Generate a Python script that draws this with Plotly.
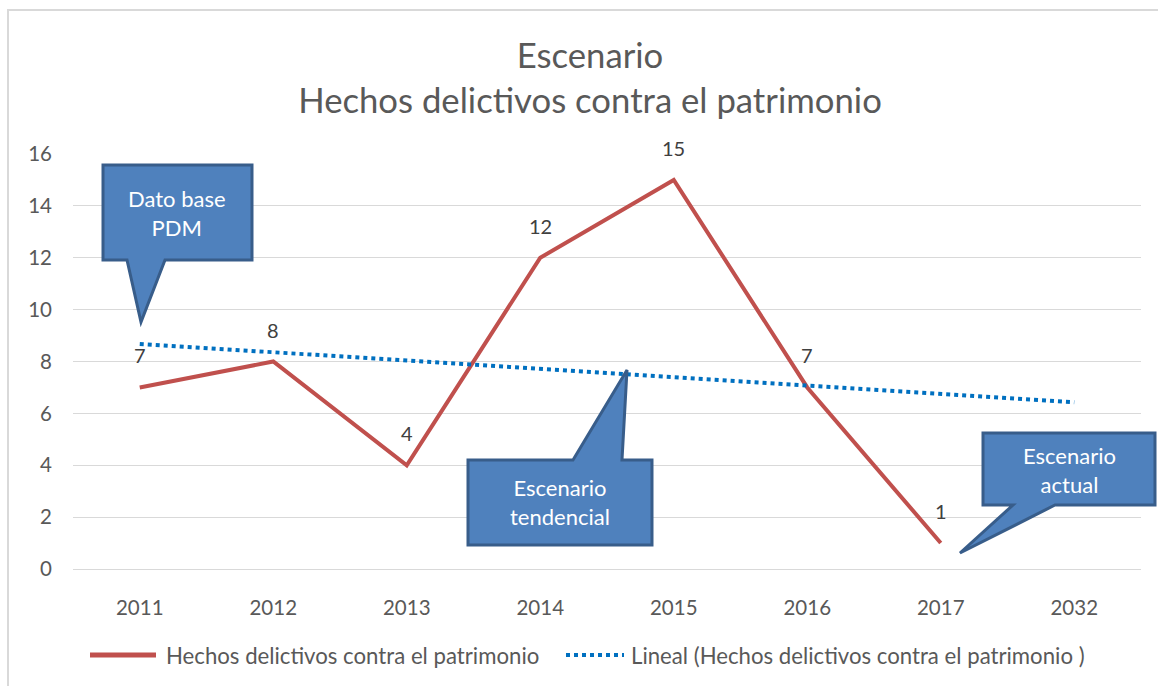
import numpy as np
import plotly.graph_objects as go

years = ["2011", "2012", "2013", "2014", "2015", "2016", "2017", "2032"]
hechos = [7, 8, 4, 12, 15, 7, 1]
serie_nombre = "Hechos delictivos contra el patrimonio"
trend_nombre = "Lineal (Hechos delictivos contra el patrimonio )"
y_ticks = [0, 2, 4, 6, 8, 10, 12, 14, 16]

# linear trendline (least squares over observed points), extended to the last category
idx = np.arange(1, len(hechos) + 1)
slope, intercept = np.polyfit(idx, hechos, 1)
trend_idx = np.arange(1, len(years) + 1)
trend_vals = slope * trend_idx + intercept

FONT = "Lato"
W, H = 1158, 686
L, R, T, B = 73, 17, 154, 117
PW, PH = W - L - R, H - T - B

def px(x):
    return (x - L) / PW

def py(y):
    return (H - B - y) / PH

fig = go.Figure()
fig.add_trace(go.Scatter(
    x=years[:len(hechos)], y=hechos, mode="lines", name=serie_nombre,
    line=dict(color="#C0504D", width=4),
))
fig.add_trace(go.Scatter(
    x=years, y=trend_vals, mode="lines", name=trend_nombre,
    line=dict(color="#0070C0", width=4, dash="dot"),
))

annotations = []
# data labels (category index positions on the category axis)
for i, v in enumerate(hechos):
    annotations.append(dict(x=i, y=v, xref="x", yref="y", text=str(v), showarrow=False,
                            yshift=32, font=dict(size=20, color="#404040", family=FONT),
                            xanchor="center", yanchor="middle"))

# callouts (pixel geometry converted to paper coordinates)
callouts = [
    dict(text="Dato base<br>PDM",
         pts=[(103, 165), (252, 165), (252, 260), (165, 260), (141, 322), (127, 260), (103, 260)],
         cx=177, cy=213),
    dict(text="Escenario<br>tendencial",
         pts=[(468, 460), (573, 460), (627, 370), (622, 460), (652, 460), (652, 545), (468, 545)],
         cx=560, cy=502),
    dict(text="Escenario<br>actual",
         pts=[(983, 433), (1155, 433), (1155, 505), (1055, 505), (960, 553), (1013, 505), (983, 505)],
         cx=1069, cy=470),
]
shapes = []
for c in callouts:
    path = "M " + " L ".join(f"{px(x):.5f},{py(y):.5f}" for x, y in c["pts"]) + " Z"
    shapes.append(dict(type="path", xref="paper", yref="paper", path=path,
                       fillcolor="#4F81BD", line=dict(color="#385D8A", width=3), layer="above"))
    annotations.append(dict(xref="paper", yref="paper", x=px(c["cx"]), y=py(c["cy"]),
                            text=c["text"], showarrow=False,
                            font=dict(size=22, color="white", family=FONT),
                            xanchor="center", yanchor="middle"))

# manual legend
LEG_Y = 655
shapes.append(dict(type="line", xref="paper", yref="paper", x0=px(90), x1=px(156),
                   y0=py(LEG_Y), y1=py(LEG_Y), line=dict(color="#C0504D", width=5)))
shapes.append(dict(type="line", xref="paper", yref="paper", x0=px(566), x1=px(624),
                   y0=py(LEG_Y), y1=py(LEG_Y), line=dict(color="#0070C0", width=4, dash="dot")))
annotations.append(dict(xref="paper", yref="paper", x=px(164), y=py(LEG_Y), text=serie_nombre,
                        showarrow=False, xanchor="left", yanchor="middle",
                        font=dict(size=22.2, color="#595959", family=FONT)))
annotations.append(dict(xref="paper", yref="paper", x=px(629), y=py(LEG_Y), text=trend_nombre,
                        showarrow=False, xanchor="left", yanchor="middle",
                        font=dict(size=22.2, color="#595959", family=FONT)))

# outer border of chart
shapes.append(dict(type="rect", xref="paper", yref="paper",
                   x0=px(8), x1=px(1170), y0=py(700), y1=py(10),
                   line=dict(color="#D9D9D9", width=2), fillcolor="rgba(0,0,0,0)", layer="below"))

fig.update_layout(
    width=W, height=H,
    margin=dict(l=L, r=R, t=T, b=B),
    paper_bgcolor="white", plot_bgcolor="white",
    title=dict(text="Escenario<br>Hechos delictivos contra el patrimonio",
               x=590 / W, xanchor="center", y=1 - 68 / H, yanchor="top",
               font=dict(family=FONT, size=34.7, color="#595959")),
    font=dict(family=FONT, color="#595959", size=20),
    xaxis=dict(type="category", categoryorder="array", categoryarray=years,
               range=[-0.5, len(years) - 0.5], showgrid=False,
               showline=True, linecolor="#D9D9D9", linewidth=1, ticks="",
               tickfont=dict(size=20.5, color="#595959", family=FONT), ticklabelstandoff=20),
    yaxis=dict(range=[0, 16], tickvals=y_ticks, showgrid=True, gridcolor="#D9D9D9",
               gridwidth=1, zeroline=False, showline=False, ticks="",
               tickfont=dict(size=20.5, color="#595959", family=FONT), ticklabelstandoff=20),
    showlegend=False,
    shapes=shapes, annotations=annotations,
)

fig.write_html("out.html", config={"displayModeBar": False},
               post_script="document.body.style.margin='0';document.body.style.overflow='hidden';")
